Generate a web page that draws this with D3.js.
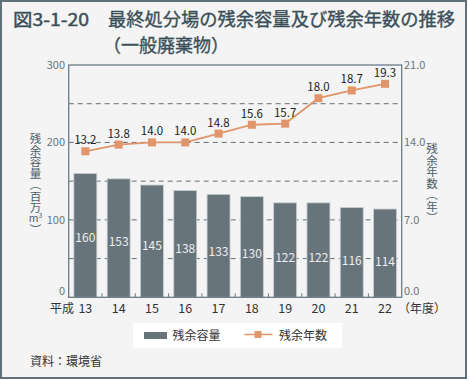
<!DOCTYPE html>
<html><head><meta charset="utf-8">
<script src="https://cdn.jsdelivr.net/npm/d3@7"></script>
<style>
html,body{margin:0;padding:0;background:#f4f4f4;}
svg{display:block;font-family:"Noto Sans CJK JP","Noto Sans",sans-serif;}
</style></head>
<body>
<svg id="c" width="469" height="381"></svg>
<script>
const categories = ["13","14","15","16","17","18","19","20","21","22"];
const capacity = [160,153,145,138,133,130,122,122,116,114];
const years = [13.2,13.8,14.0,14.0,14.8,15.6,15.7,18.0,18.7,19.3];
const leftTicks = [0,100,200,300];
const rightTicks = [0,7,14,21];
const gridTicks = [50,100,150,200,250];

const svg = d3.select("#c");
const W = 469, H = 381;
const m = {l:68.7, r:401.7, t:65, b:297.3};

svg.append("rect").attr("x",0).attr("y",0).attr("width",W).attr("height",H).attr("fill","#ffffff");
svg.append("rect").attr("x",1).attr("y",1).attr("width",465).attr("height",377)
  .attr("fill","#f4f4f4").attr("stroke","#5f7078").attr("stroke-width",2);

// Title
const tc = "#3b4f58";
svg.append("text").attr("x",13).attr("y",26).attr("font-size",17.5).attr("font-weight",400).attr("fill",tc)
  .attr("stroke",tc).attr("stroke-width",0.45)
  .attr("textLength",76).attr("lengthAdjust","spacingAndGlyphs").text("図3-1-20");
svg.append("text").attr("x",108).attr("y",26).attr("font-size",18).attr("font-weight",400).attr("fill",tc)
  .attr("stroke",tc).attr("stroke-width",0.35)
  .attr("textLength",347).attr("lengthAdjust","spacingAndGlyphs").text("最終処分場の残余容量及び残余年数の推移");
svg.append("text").attr("x",103).attr("y",52).attr("font-size",18).attr("font-weight",400).attr("fill",tc)
  .attr("stroke",tc).attr("stroke-width",0.35).text("（一般廃棄物）");

const x = d3.scaleBand().domain(categories).range([m.l,m.r]).paddingInner(0.31).paddingOuter(0.155);
const xb = d3.scaleBand().domain(categories).range([m.l,m.r]);
const yL = d3.scaleLinear().domain([0,300]).range([m.b,m.t]);
const yR = d3.scaleLinear().domain([0,21]).range([m.b,m.t]);

// grid
svg.append("g").selectAll("line").data(gridTicks).join("line")
  .attr("x1",m.l).attr("x2",m.r).attr("y1",d=>yL(d)).attr("y2",d=>yL(d))
  .attr("stroke","#5f7078").attr("stroke-width",1).attr("stroke-dasharray","5,4");

// bars
svg.append("g").selectAll("rect").data(capacity).join("rect")
  .attr("x",(d,i)=>x(categories[i])).attr("width",x.bandwidth())
  .attr("y",d=>yL(d)).attr("height",d=>yL(0)-yL(d))
  .attr("fill","#68747c").attr("stroke","#c9d0d3").attr("stroke-width",0.8);

// bar labels
svg.append("g").selectAll("text").data(capacity).join("text")
  .attr("x",(d,i)=>x(categories[i])+x.bandwidth()/2)
  .attr("y",d=>yL(d*0.66-29)).attr("dy","0.35em")
  .attr("text-anchor","middle").attr("font-size",12).attr("fill","#eceeef").text(d=>d);

// plot frame
svg.append("rect").attr("x",m.l).attr("y",m.t).attr("width",m.r-m.l).attr("height",m.b-m.t)
  .attr("fill","none").attr("stroke","#6b7c84").attr("stroke-width",1.3);

// bottom ticks (category boundaries, inward)
svg.append("g").selectAll("line").data(categories.slice(1)).join("line")
  .attr("x1",d=>xb(d)).attr("x2",d=>xb(d)).attr("y1",m.b).attr("y2",m.b-4)
  .attr("stroke","#6b7c84").attr("stroke-width",1);

// axes labels
svg.append("g").selectAll("text").data(leftTicks).join("text")
  .attr("x",65).attr("y",d=>yL(d)-(d===0?6:0)).attr("dy","0.35em").attr("text-anchor","end")
  .attr("font-size",11).attr("fill","#6a767c").text(d=>d);
svg.append("g").selectAll("text").data(rightTicks).join("text")
  .attr("x",404).attr("y",d=>yR(d)-(d===0?6:0)).attr("dy","0.35em").attr("text-anchor","start")
  .attr("font-size",11).attr("fill","#6a767c").text(d=>d3.format(".1f")(d));

svg.append("g").selectAll("text").data(categories).join("text")
  .attr("x",d=>xb(d)+xb.bandwidth()/2).attr("y",312.5).attr("text-anchor","middle")
  .attr("font-size",12.5).attr("fill","#333").text(d=>d);
svg.append("text").attr("x",74).attr("y",312.5).attr("text-anchor","end").attr("font-size",12).attr("fill","#333").text("平成");
svg.append("text").attr("x",398).attr("y",312.5).attr("font-size",12).attr("fill","#333").text("（年度）");

// line
const line = d3.line().x((d,i)=>xb(categories[i])+xb.bandwidth()/2).y(d=>yR(d));
svg.append("path").datum(years).attr("d",line).attr("fill","none").attr("stroke","#e0956a").attr("stroke-width",1.8);
svg.append("g").selectAll("rect").data(years).join("rect")
  .attr("x",(d,i)=>xb(categories[i])+xb.bandwidth()/2-4).attr("y",d=>yR(d)-4)
  .attr("width",8).attr("height",8).attr("fill","#e0956a");
svg.append("g").selectAll("text").data(years).join("text")
  .attr("x",(d,i)=>xb(categories[i])+xb.bandwidth()/2).attr("y",d=>yR(d)-7)
  .attr("text-anchor","middle").attr("font-size",11.5).attr("fill","#222").text(d=>d3.format(".1f")(d));

// vertical axis titles
const ac = "#4d6068";
svg.append("text").attr("x",35.5).attr("y",133).attr("font-size",11.5).attr("fill",ac)
  .style("writing-mode","vertical-rl").text("残余容量（百万");
svg.append("text").attr("x",35.5).attr("y",222).attr("text-anchor","middle").attr("font-size",10.5).attr("fill",ac)
  .html("m<tspan font-size='7' dy='-4'>3</tspan>");
svg.append("text").attr("x",35.5).attr("y",224).attr("font-size",11.5).attr("fill",ac)
  .style("writing-mode","vertical-rl").text("）");
svg.append("text").attr("x",432).attr("y",143).attr("font-size",11.5).attr("fill",ac)
  .style("writing-mode","vertical-rl").text("残余年数（年）");

// legend
svg.append("rect").attr("x",133).attr("y",323).attr("width",209).attr("height",25).attr("fill","#ffffff");
svg.append("rect").attr("x",144).attr("y",332).attr("width",23).attr("height",7).attr("fill","#68747c");
svg.append("text").attr("x",172.5).attr("y",340).attr("font-size",12).attr("fill","#333").text("残余容量");
svg.append("line").attr("x1",244.5).attr("x2",272.5).attr("y1",334.5).attr("y2",334.5).attr("stroke","#e0956a").attr("stroke-width",1.5);
svg.append("rect").attr("x",254.5).attr("y",331).attr("width",7).attr("height",7).attr("fill","#e0956a");
svg.append("text").attr("x",279).attr("y",340).attr("font-size",12).attr("fill","#333").text("残余年数");

// source
svg.append("text").attr("x",30).attr("y",366).attr("font-size",12).attr("fill","#333").text("資料：環境省");
</script>
</body></html>
